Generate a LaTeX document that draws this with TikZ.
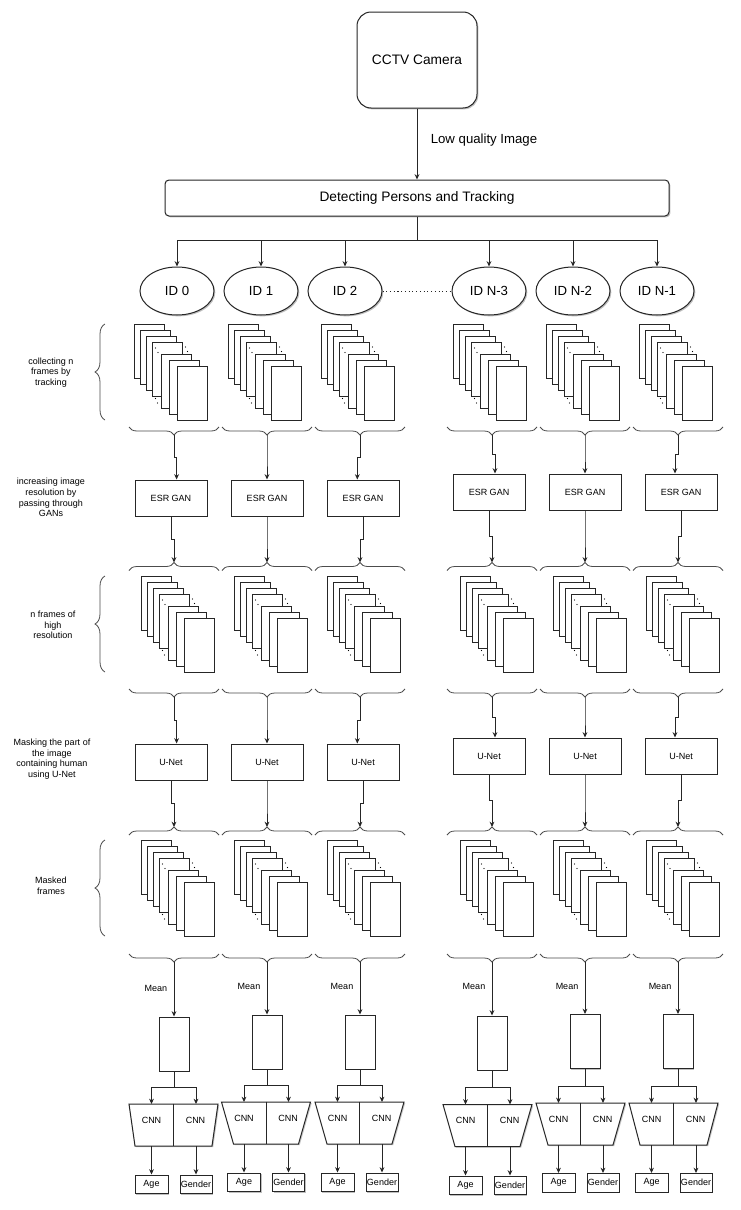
\documentclass[tikz,border=0pt]{standalone}
\usepackage{fontspec}
\setmainfont{Liberation Sans}
\usetikzlibrary{arrows.meta,decorations.pathreplacing,shadows,calc,shapes.geometric}
\newcommand\pxu{0.75pt}
\newcommand\fstack[2]{%
  \foreach \dx/\dy in {0/0,6/6,12/12,18/18,27/30,35/36,43/42}{%
    \fill[black!22] (#1+\dx+1.2,#2+\dy+1.2) rectangle ++(30,54);
    \filldraw[fill=white,draw=black!85,line width=0.75pt] (#1+\dx,#2+\dy) rectangle ++(30,54);
  }%
  \foreach \px/\py in {21.5/24,24/28.5,51.5/23,53.5/27.5,21.5/74.5,23.5/79}{%
    \fill[black] (#1+\px,#2+\py) circle (0.45pt);
  }%
}
\newcommand\jog[2]{\draw[arr] (#1) |- ($(#1)!0.5!(#2)$) -| (#2);}
\begin{document}
\begin{tikzpicture}[x=0.75pt,y=-0.75pt,
  every node/.style={font=\fontsize{6.75pt}{8pt}\selectfont},
  ln/.style={draw=black!85, line width=0.75pt},
  arr/.style={ln, -{Stealth[length=4pt,width=3.6pt]}},
  shd/.style={drop shadow={shadow xshift=1pt,shadow yshift=-1pt,opacity=0.25,fill=black}},
  box/.style={ln, fill=white, shd, inner sep=0pt},
  bigf/.style={font=\fontsize{10.3pt}{12pt}\selectfont},
  idf/.style={font=\fontsize{9.9pt}{12pt}\selectfont},
  brc/.style={draw=black!70, line width=0.6pt, decorate, decoration={brace, amplitude=6pt}},
  brcv/.style={draw=black!70, line width=0.6pt, decorate, decoration={brace, amplitude=7.5pt}},
  lab/.style={align=center, inner sep=0pt}
]
\useasboundingbox (0,0) rectangle (740,1210);
\fill[white] (0,0) rectangle (740,1210);

% top
\node[box, rounded corners=10.5pt, minimum width=120*\pxu, minimum height=96*\pxu, bigf] (cam) at (417,60) {CCTV Camera};
\node[box, rounded corners=3pt, minimum width=504*\pxu, minimum height=36*\pxu, bigf] (det) at (417,198) {Detecting Persons and Tracking};
\draw[arr] (cam) -- (det);
\node[idf, inner sep=0pt] (lq) at (484,140) {Low quality Image};

\coordinate (bus) at (417,240);
\draw[ln] (det.south) -- (bus);
\foreach \i/\x/\t in {0/177/ID 0,1/261/ID 1,2/345/ID 2,3/489/ID N-3,4/573/ID N-2,5/657/ID N-1}{
  \node[box, ellipse, minimum width=74*\pxu, minimum height=48*\pxu, idf] (id\i) at (\x,291) {\t};
  \draw[arr] (bus) -| (id\i.north);
}
\draw[ln, dash pattern=on 0.8pt off 2pt] (id2.east) -- (id3.west);

% left labels
\draw[brcv] (105,420) -- (105,324);
\draw[brcv] (105,672) -- (105,576);
\draw[brcv] (105,936) -- (105,840);
\node[lab] (l1) at (51,372.5) {collecting n\\frames by\\tracking};
\node[lab] (l2) at (51,497.5) {increasing image\\resolution by\\passing through\\GANs};
\node[lab] (l3) at (53,625) {n frames of\\high\\resolution};
\node[lab] (l4) at (52,759) {Masking the part of\\the image\\containing human\\using U-Net};
\node[lab] (l5) at (51,886) {Masked\\frames};

\foreach \i/\cx/\sxa/\sxb/\ex/\ey/\ee/\tc/\ty/\slt/\my/\by/\ay/\mly in {
0/174/134/141/171/498/5.6/173.5/1104/6/1017/1087/1175/988,
1/267/228/234/267/498/0/266/1102/12/1015/1085/1173/986,
2/360/321/327/363/498/-5.7/359.5/1102/12/1015/1085/1173/986,
3/492/453/460/489/492/6/487.5/1104.5/12/1016/1087/1176/986.5,
4/585/546/553/585/492/0/580.5/1103/12/1014.5/1086/1173.5/986,
5/678/639/646/681/492/-6/673.5/1103/11/1014.5/1086/1173.5/986}{
  \fstack{\sxa}{324}
  \fstack{\sxb}{576}
  \fstack{\sxb}{840}
  % braces
  \draw[brc] (\cx+45,427) -- (\cx-45,427);
  \coordinate (bA\i) at (\cx,435);
  \draw[brc] (\cx-45,570.5) -- (\cx+45,570.5);
  \coordinate (bB\i) at (\cx,562.5);
  \draw[brc] (\cx+45,689) -- (\cx-45,689);
  \coordinate (bC\i) at (\cx,697);
  \draw[brc] (\cx-45,835) -- (\cx+45,835);
  \coordinate (bD\i) at (\cx,827);
  \draw[brc] (\cx+45,954) -- (\cx-45,954);
  \coordinate (bE\i) at (\cx,962);
  % boxes
  \node[box, minimum width=72*\pxu, minimum height=36*\pxu] (esr\i) at (\ex,\ey) {ESR GAN};
  \node[box, minimum width=72*\pxu, minimum height=36*\pxu] (unet\i) at (\ex,\ey+264) {U-Net};
  \coordinate (eA\i) at ([xshift=\ee*\pxu]esr\i.north);
  \coordinate (eC\i) at ([xshift=\ee*\pxu]unet\i.north);
  \jog{bA\i}{eA\i}
  \jog{esr\i.south}{bB\i}
  \jog{bC\i}{eC\i}
  \jog{unet\i.south}{bD\i}
  % mean
  \node[box, minimum width=30*\pxu, minimum height=54*\pxu] (mean\i) at (\cx,\my+27) {};
  \draw[arr] (bE\i) -- (mean\i.north);
  \node[inner sep=0pt] (ml\i) at (\cx-18,\mly) {Mean};
  % trapezoid
  \fill[black!22] (\tc-44.5+1.2,\ty+1.2) -- (\tc+44.5+1.2,\ty+1.2) -- (\tc+44.5-\slt+1.2,\ty+43.2) -- (\tc-44.5+\slt+1.2,\ty+43.2) -- cycle;
  \filldraw[ln, fill=white] (\tc-44.5,\ty) -- (\tc+44.5,\ty) -- (\tc+44.5-\slt,\ty+42) -- (\tc-44.5+\slt,\ty+42) -- cycle;
  \node[inner sep=0pt, minimum width=89*\pxu, minimum height=42*\pxu] (trap\i) at (\tc,\ty+21) {};
  \draw[ln] (trap\i.north) -- (trap\i.south);
  \node[inner sep=0pt] (cnl\i) at (\tc-22,\ty+16) {CNN};
  \node[inner sep=0pt] (cnr\i) at (\tc+22,\ty+16) {CNN};
  \coordinate (tl\i) at (\tc-22,\ty);
  \coordinate (tr\i) at (\tc+22.5,\ty);
  \coordinate (br\i) at (\cx,\by);
  \draw[ln] (mean\i.south) -- (br\i);
  \draw[arr] (br\i) -| (tl\i);
  \draw[arr] (br\i) -| (tr\i);
  % outputs
  \node[box, minimum width=33*\pxu, minimum height=18.5*\pxu] (age\i) at (\tc-22,\ay+9.25) {Age};
  \node[box, minimum width=32*\pxu, minimum height=18.5*\pxu] (gen\i) at (\tc+22.5,\ay+9.25) {Gender};
  \coordinate (ol\i) at (\tc-22,\ty+42);
  \coordinate (or\i) at (\tc+22.5,\ty+42);
  \draw[arr] (ol\i) -- (age\i.north);
  \draw[arr] (or\i) -- (gen\i.north);
}
\end{tikzpicture}
\end{document}
